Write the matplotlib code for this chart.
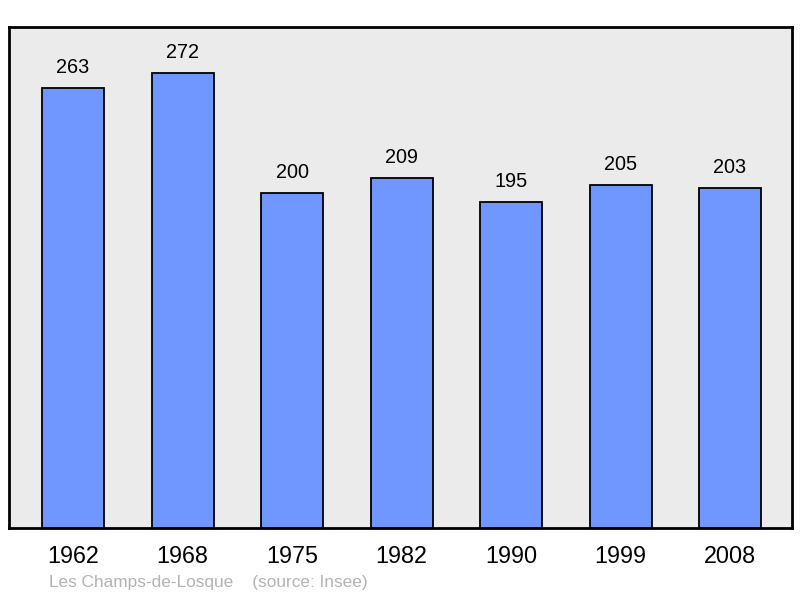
import matplotlib
matplotlib.use("Agg")
import matplotlib.pyplot as plt

years = ["1962", "1968", "1975", "1982", "1990", "1999", "2008"]
population = [263, 272, 200, 209, 195, 205, 203]
footer = "Les Champs-de-Losque    (source: Insee)"

plt.rcParams['font.family'] = ['Liberation Sans', 'DejaVu Sans']

fig = plt.figure(figsize=(8, 5.98), dpi=100)
ax = fig.add_axes([9/800, 70/598, 783/800, 501/598])
ax.set_facecolor('#ebebeb')

x = list(range(len(years)))
bars = ax.bar(x, population, width=0.566, color='#7096ff', edgecolor='black', linewidth=1.3, zorder=2)
for xi, v in zip(x, population):
    ax.annotate(str(v), (xi, v), xytext=(0, 8), textcoords='offset points',
                ha='center', va='bottom', fontsize=14.3, color='black')

ax.set_xlim(-0.585, 6.566)
ax.set_ylim(0, 299.5)
ax.set_yticks([])
ax.set_xticks(x)
ax.set_xticklabels(years, fontsize=16.8)
ax.tick_params(axis='x', length=0, pad=12)
for s in ax.spines.values():
    s.set_linewidth(2)
    s.set_color('black')

fig.text(49/800, 1 - 583/598, footer, fontsize=12.4, color='#b3b3b3', ha='left', va='center')

fig.savefig('out.png', dpi=100)
